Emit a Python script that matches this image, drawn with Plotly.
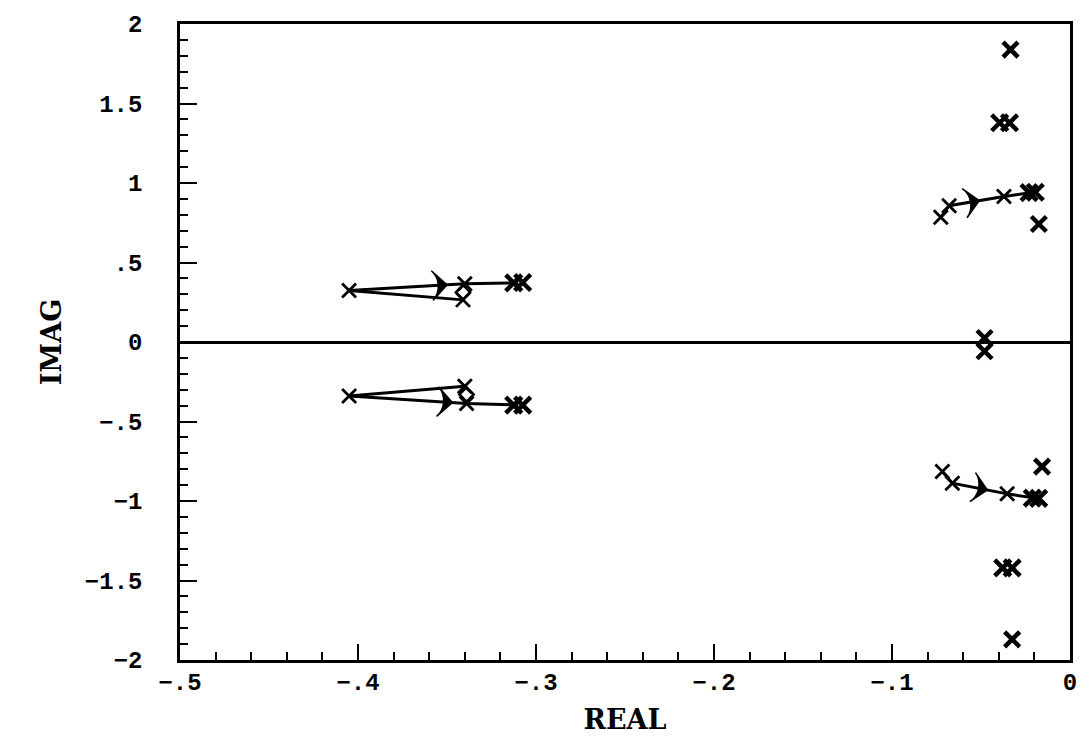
import numpy as np
import plotly.graph_objects as go

# ---- data (root locus) ----
# locus branches: start, turning point, intermediate, end
b1_re = [-0.341, -0.405, -0.340, -0.310]
b1_im = [0.265, 0.324, 0.366, 0.372]
b2_re = [-0.340, -0.405, -0.339, -0.310]
b2_im = [-0.278, -0.339, -0.387, -0.397]
b3_re = [-0.0726, -0.0679, -0.0371, -0.0212]
b3_im = [0.784, 0.857, 0.915, 0.940]
b4_re = [-0.0717, -0.0661, -0.0353, -0.0194]
b4_im = [-0.815, -0.888, -0.955, -0.982]

# direction arrows (tip) on each branch
arrow_re = [-0.350, -0.347, -0.051, -0.0465]
arrow_im = [0.360, -0.381, 0.889, -0.931]

# zeros (diamonds)
zero_re = [-0.341, -0.339]
zero_im = [0.313, -0.330]

# clustered end points (overlapping crosses)
star_re = [-0.3125, -0.3075, -0.3125, -0.3075, -0.0230, -0.0195, -0.0212, -0.0176,
           -0.0395, -0.0340, -0.0378, -0.0325]
star_im = [0.372, 0.374, -0.397, -0.397, 0.940, 0.942, -0.982, -0.984,
           1.379, 1.379, -1.421, -1.421]

# isolated poles (bold crosses)
pole_re = [-0.0334, -0.0175, -0.048, -0.048, -0.0157, -0.0325]
pole_im = [1.839, 0.742, 0.025, -0.058, -0.784, -1.870]

x_ticks = [-0.5, -0.4, -0.3, -0.2, -0.1, 0]
x_labels = ['\u2212.5', '\u2212.4', '\u2212.3', '\u2212.2', '\u2212.1', '0']
y_ticks = [-2, -1.5, -1, -0.5, 0, 0.5, 1, 1.5, 2]
y_labels = ['\u22122', '\u22121.5', '\u22121', '\u2212.5', '0', '.5', '1', '1.5', '2']

branches = [(b1_re, b1_im), (b2_re, b2_im), (b3_re, b3_im), (b4_re, b4_im)]

fig = go.Figure()

for bre, bim in branches:
    fig.add_trace(go.Scatter(
        x=bre, y=bim, mode='lines+markers',
        line=dict(color='black', width=3),
        marker=dict(symbol='x-thin', size=[14] * (len(bre) - 1) + [0], opacity=1,
                    color='black', line=dict(color='black', width=2.8)),
        hoverinfo='skip'))

# arrows, oriented along the segment from the turning point
for (bre, bim), ar, ai in zip(branches, arrow_re, arrow_im):
    fig.add_trace(go.Scatter(
        x=[bre[1], ar], y=[bim[1], ai], mode='markers',
        marker=dict(symbol='arrow-wide', size=[0, 21], angleref='previous', opacity=1,
                    color='black', line=dict(color='black', width=1.5)),
        hoverinfo='skip'))

fig.add_trace(go.Scatter(
    x=zero_re, y=zero_im, mode='markers',
    marker=dict(symbol='diamond-open', size=11, color='black', opacity=1,
                line=dict(color='black', width=2.5)),
    hoverinfo='skip'))

fig.add_trace(go.Scatter(
    x=star_re, y=star_im, mode='markers',
    marker=dict(symbol='x-thin', size=16, color='black', opacity=1,
                line=dict(color='black', width=4.5)),
    hoverinfo='skip'))

fig.add_trace(go.Scatter(
    x=pole_re, y=pole_im, mode='markers',
    marker=dict(symbol='x-thin', size=15, color='black', opacity=1,
                line=dict(color='black', width=4.5)),
    hoverinfo='skip'))

tick_font = dict(family='Liberation Mono', size=24, color='black', weight='bold')
title_font = dict(family='DejaVu Serif', size=27, color='black', weight='bold')

fig.update_layout(
    width=1089, height=749,
    margin=dict(l=180, r=16, t=20, b=89),
    plot_bgcolor='white', paper_bgcolor='white',
    showlegend=False,
)

fig.update_xaxes(
    range=[-0.5, 0], tickmode='array', tickvals=x_ticks, ticktext=x_labels,
    ticks='inside', ticklen=16, tickwidth=2, tickcolor='black',
    minor=dict(tickmode='array', tickvals=list(np.round(np.arange(-0.5, 0.001, 0.02), 3)),
               ticks='inside', ticklen=8, tickwidth=2, tickcolor='black', showgrid=False),
    showgrid=False, zeroline=False,
    showline=True, linewidth=2.5, linecolor='black', mirror=True,
    tickfont=tick_font, ticklabelstandoff=-2,
    title=dict(text='REAL', font=title_font, standoff=15),
)
fig.update_yaxes(
    range=[-2, 2], tickmode='array', tickvals=y_ticks, ticktext=y_labels,
    ticks='inside', ticklen=17, tickwidth=2, tickcolor='black',
    minor=dict(tickmode='array', tickvals=list(np.round(np.arange(-2, 2.001, 0.1), 2)),
               ticks='inside', ticklen=8, tickwidth=2, tickcolor='black', showgrid=False),
    showgrid=False,
    zeroline=True, zerolinewidth=2.5, zerolinecolor='black',
    showline=True, linewidth=2.5, linecolor='black', mirror=True,
    tickfont=tick_font, ticklabelstandoff=30,
    title=dict(text='IMAG', font=title_font, standoff=16),
)

fig.write_html('out.html')
